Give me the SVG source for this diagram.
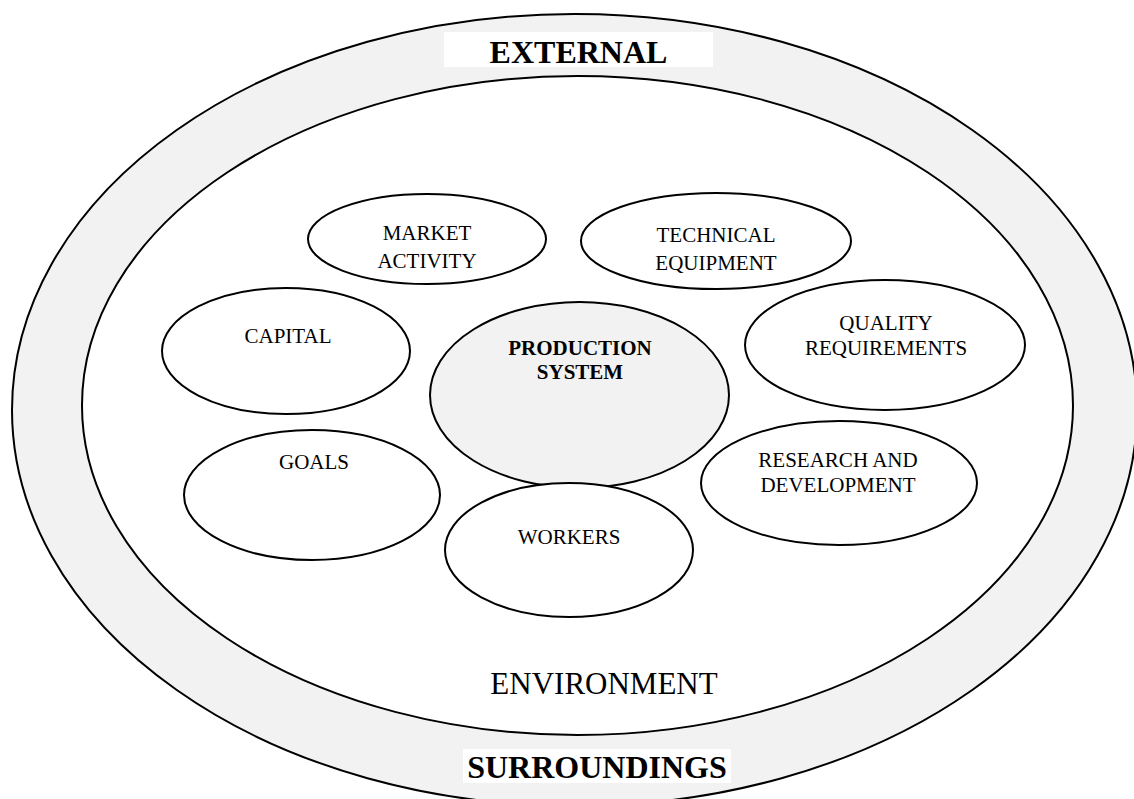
<svg xmlns="http://www.w3.org/2000/svg" width="1134" height="799" viewBox="0 0 1134 799">
  <style>
    .band { fill: #f2f2f2; stroke: #000; stroke-width: 2; }
    .field { fill: #fff; stroke: #000; stroke-width: 2; }
    .node { fill: #fff; stroke: #000; stroke-width: 2; }
    .core { fill: #f2f2f2; stroke: #000; stroke-width: 2; }
    .tag { fill: #fff; stroke: none; }
    text { font-family: "Liberation Serif", "Times New Roman", serif; fill: #000; text-anchor: middle; }
    .lbl { font-size: 21px; }
    .core-lbl { font-size: 21px; font-weight: bold; }
    .ring-lbl { font-size: 32px; font-weight: bold; }
    .env-lbl { font-size: 31px; }
  </style>
  <rect width="1134" height="799" fill="#fff"/>

  <!-- outer ring: external surroundings -->
  <g id="external">
    <ellipse class="band" cx="574.5" cy="410" rx="562.5" ry="396"/>
    <rect class="tag" x="444" y="32" width="269" height="35"/>
    <text class="ring-lbl" x="578.5" y="63">EXTERNAL</text>
    <rect class="tag" x="463" y="749" width="268" height="34"/>
    <text class="ring-lbl" x="597" y="778">SURROUNDINGS</text>
  </g>

  <!-- inner field: environment -->
  <g id="environment">
    <ellipse class="field" cx="577.5" cy="405.5" rx="495.5" ry="329.5"/>
    <text class="env-lbl" x="604" y="694">ENVIRONMENT</text>
  </g>

  <g id="connectors"/>

  <g id="market-activity">
    <ellipse class="node" cx="427" cy="239" rx="119" ry="45"/>
    <text class="lbl" x="427" y="240">MARKET</text>
    <text class="lbl" x="427" y="268">ACTIVITY</text>
  </g>

  <g id="technical-equipment">
    <ellipse class="node" cx="716" cy="241" rx="135" ry="48"/>
    <text class="lbl" x="716" y="242">TECHNICAL</text>
    <text class="lbl" x="716" y="270">EQUIPMENT</text>
  </g>

  <g id="capital">
    <ellipse class="node" cx="286" cy="351" rx="124" ry="63"/>
    <text class="lbl" x="288" y="343">CAPITAL</text>
  </g>

  <g id="production-system">
    <ellipse class="core" cx="579.5" cy="395" rx="149.5" ry="93"/>
    <text class="core-lbl" x="580" y="355">PRODUCTION</text>
    <text class="core-lbl" x="580" y="379">SYSTEM</text>
  </g>

  <g id="quality-requirements">
    <ellipse class="node" cx="885" cy="345" rx="140" ry="65"/>
    <text class="lbl" x="886" y="330">QUALITY</text>
    <text class="lbl" x="886" y="355">REQUIREMENTS</text>
  </g>

  <g id="goals">
    <ellipse class="node" cx="312" cy="495" rx="128" ry="65"/>
    <text class="lbl" x="314" y="469">GOALS</text>
  </g>

  <g id="research-development">
    <ellipse class="node" cx="839" cy="483" rx="138" ry="62"/>
    <text class="lbl" x="838" y="467">RESEARCH AND</text>
    <text class="lbl" x="838" y="492">DEVELOPMENT</text>
  </g>

  <g id="workers">
    <ellipse class="node" cx="569" cy="550" rx="124" ry="67"/>
    <text class="lbl" x="569" y="544">WORKERS</text>
  </g>
</svg>
